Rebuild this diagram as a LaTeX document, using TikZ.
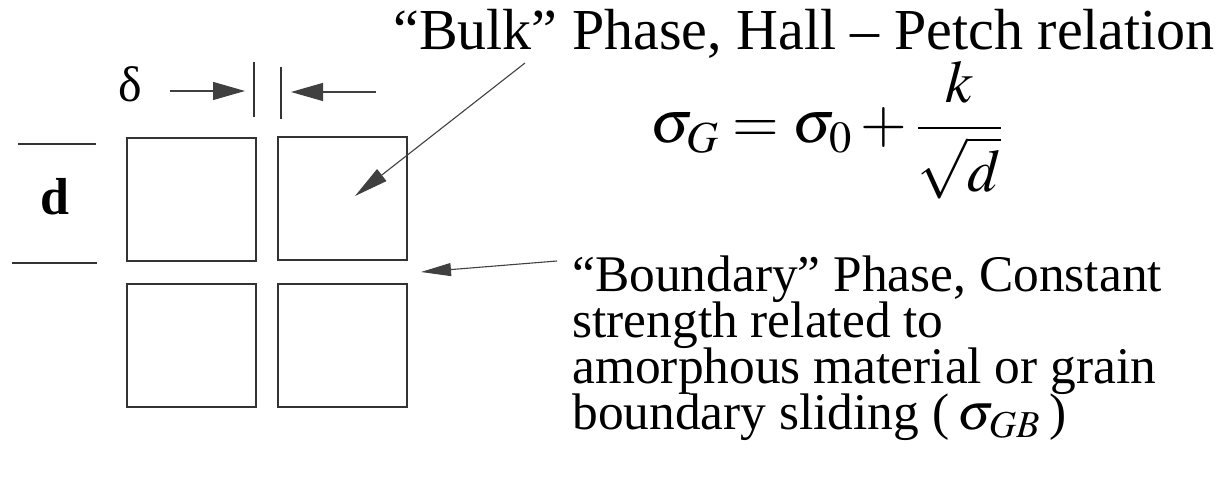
\documentclass[tikz,border=0pt]{standalone}
\usepackage{mathptmx}
\usepackage{fontspec}
\setmainfont{Liberation Serif}
\usetikzlibrary{arrows.meta}
\newcommand\tightlines{\setlength{\lineskiplimit}{-20pt}}

\begin{document}
\begin{tikzpicture}[x=0.5pt, y=-0.5pt,
  grain/.style={draw=black!80, line width=0.6pt, minimum width=64.5pt,
    minimum height=61.5pt, inner sep=0},
  lbl/.style={inner sep=0, anchor=base west},
  ptr/.style={draw=black!75, line width=0.55pt,
    -{Triangle[length=#1]}},
  ptr/.default=16pt,
  tick/.style={draw=black!80, line width=0.6pt}]
\useasboundingbox (0,0) rectangle (1226,496);
% four grains
\node[grain] (g11) at (191.5,199.5) {};
\node[grain] (g12) at (342.5,198.5) {};
\node[grain] (g21) at (191.5,345.5) {};
\node[grain] (g22) at (342.5,345.5) {};
% grain size d
\coordinate (dt1) at (18,144);
\coordinate (dt2) at (96,144);
\coordinate (db1) at (12,263);
\coordinate (db2) at (97,263);
\draw[tick] (dt1) -- (dt2);
\draw[tick] (db1) -- (db2);
\node[font=\fontsize{26}{30}\selectfont\bfseries] (dlab) at (55,197) {d};
% boundary width delta
\node[font=\fontsize{25}{28}\selectfont] (delta) at (130,84) {δ};
\coordinate (gl1) at (254,62);
\coordinate (gl2) at (254,117);
\coordinate (gr1) at (281,67);
\coordinate (gr2) at (281,119);
\draw[tick] (gl1) -- (gl2);
\draw[tick] (gr1) -- (gr2);
\coordinate (al) at (170,91);
\coordinate (altip) at (245,91);
\coordinate (ar) at (376,92);
\coordinate (artip) at (291,92);
\draw[ptr={16pt,width=9pt}] (al) -- (altip);
\draw[ptr={16pt,width=9pt}] (ar) -- (artip);
% labels
\node[lbl, font=\fontsize{29}{31}\selectfont] (bulk) at (393,50)
  {“Bulk” Phase, Hall – Petch relation};
\node[lbl, font=\fontsize{30}{32}\selectfont] (hp) at (650,143)
  {$\displaystyle \sigma_G=\sigma_0+\frac{k}{\sqrt{d}}$};
\node[inner sep=0, anchor=north west, align=left,
  font=\fontsize{25.7}{23.1}\selectfont\tightlines] (bnd) at (572,255)
  {“Boundary” Phase, Constant\\ strength related to\\
   amorphous material or grain\\ boundary sliding (\,$\sigma_{GB}$\,)};
% pointers
\coordinate (bk) at (525,63);
\coordinate (bktip) at (355,196);
\coordinate (bd) at (557,261);
\coordinate (bdtip) at (421,272);
\draw[ptr={17pt,width=7.5pt}] (bk) -- (bktip);
\draw[ptr={15pt,width=6.5pt}] (bd) -- (bdtip);
\end{tikzpicture}
\end{document}
